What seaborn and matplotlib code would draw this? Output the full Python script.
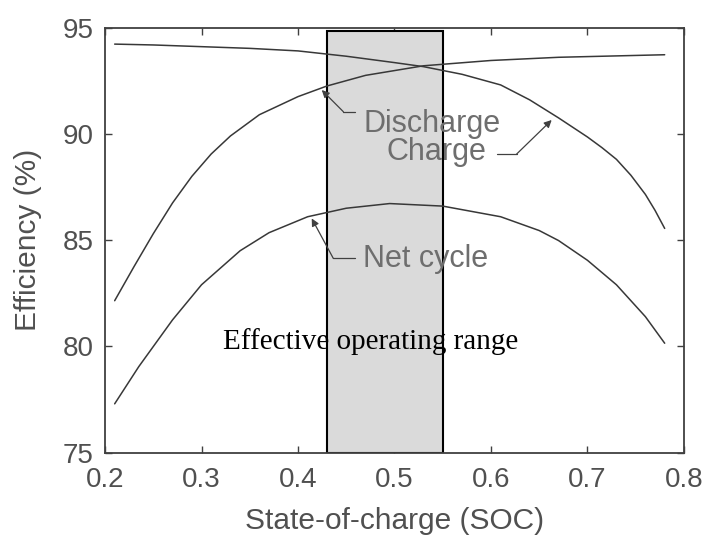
import pandas as pd
import matplotlib
matplotlib.use('Agg')
import matplotlib.pyplot as plt
from matplotlib.patches import Rectangle
import seaborn as sns

sns.set_style('ticks')
plt.rcParams['font.family'] = ['Liberation Sans', 'DejaVu Sans']

# efficiency curves (SOC, %)
charge_soc = [0.21, 0.25, 0.30, 0.35, 0.40, 0.45, 0.50, 0.53, 0.57, 0.61, 0.64, 0.67, 0.70,
              0.715, 0.73, 0.745, 0.76, 0.77, 0.78]
charge_eff = [94.22, 94.18, 94.1, 94.02, 93.9, 93.65, 93.35, 93.16, 92.8, 92.3, 91.6, 90.75, 89.85,
              89.35, 88.8, 88.05, 87.15, 86.4, 85.55]

discharge_soc = [0.21, 0.23, 0.25, 0.27, 0.29, 0.31, 0.33, 0.36, 0.40, 0.43, 0.47, 0.53, 0.60, 0.67, 0.78]
discharge_eff = [82.15, 83.75, 85.3, 86.75, 88.0, 89.05, 89.9, 90.9, 91.75, 92.25, 92.75, 93.2, 93.45, 93.6, 93.72]

net_soc = [0.21, 0.235, 0.27, 0.30, 0.34, 0.37, 0.41, 0.45, 0.495, 0.55, 0.61, 0.65, 0.67, 0.70, 0.73, 0.76, 0.78]
net_eff = [77.3, 79.05, 81.25, 82.9, 84.5, 85.35, 86.1, 86.5, 86.72, 86.6, 86.1, 85.45, 84.98, 84.05, 82.9, 81.4, 80.15]

# effective operating range (SOC)
range_lo, range_hi = 0.43, 0.55

x_ticks = [0.2, 0.3, 0.4, 0.5, 0.6, 0.7, 0.8]
y_ticks = [75, 80, 85, 90, 95]

df = pd.concat([
    pd.DataFrame({'SOC': charge_soc, 'Efficiency': charge_eff, 'curve': 'Charge'}),
    pd.DataFrame({'SOC': discharge_soc, 'Efficiency': discharge_eff, 'curve': 'Discharge'}),
    pd.DataFrame({'SOC': net_soc, 'Efficiency': net_eff, 'curve': 'Net cycle'}),
], ignore_index=True)

fig = plt.figure(figsize=(7.11, 5.44), dpi=100)
ax = fig.add_axes([0.1477, 0.1678, 0.8143, 0.7816])

# shaded box behind the curves
ax.add_patch(Rectangle((range_lo, 75), range_hi - range_lo, 19.85,
                       facecolor='#dadada', edgecolor='black', lw=1.5, zorder=1))

sns.lineplot(data=df, x='SOC', y='Efficiency', hue='curve', units='curve', estimator=None,
             palette=['#383838'] * 3, lw=1.1, legend=False, sort=False, ax=ax, zorder=2)

ax.set_xlim(0.2, 0.8)
ax.set_ylim(75, 95)
ax.set_xticks(x_ticks)
ax.set_yticks(y_ticks)
ax.set_xticklabels([f'{v:.1f}' for v in x_ticks])
ax.tick_params(direction='in', length=5, width=1, top=True, right=True,
               labelsize=20, labelcolor='#505050', color='#404040')
ax.tick_params(axis='x', pad=10)
ax.tick_params(axis='y', pad=8)
for s in ax.spines.values():
    s.set_color('#404040')
    s.set_linewidth(1.3)

ax.set_xlabel('State-of-charge (SOC)', fontsize=21.5, color='#505050')
ax.set_ylabel('Efficiency (%)', fontsize=21.5, color='#505050')
ax.xaxis.set_label_coords(0.5, -0.128)
ax.yaxis.set_label_coords(-0.109, 0.5)

# curve labels with leader lines
label_grey = '#6e6e6e'
leaders = [
    ((0.4246, 92.06), (0.447, 91.04), (0.459, 91.04)),
    ((0.6629, 90.65), (0.6266, 89.05), (0.6059, 89.05)),
    ((0.4142, 86.02), (0.4366, 84.14), (0.4591, 84.14)),
]
for tip, elbow, end in leaders:
    ax.plot([elbow[0], end[0]], [elbow[1], end[1]], color='#404040', lw=0.9, zorder=3)
    ax.annotate('', xy=tip, xytext=elbow,
                arrowprops=dict(arrowstyle='-|>', color='#404040', lw=0.9,
                                shrinkA=0, shrinkB=0, mutation_scale=11), zorder=3)

ax.text(0.4677, 90.10, 'Discharge', fontsize=22, color=label_grey, ha='left', va='baseline', zorder=4)
ax.text(0.5955, 88.76, 'Charge', fontsize=22, color=label_grey, ha='right', va='baseline', zorder=4)
ax.text(0.4677, 83.72, 'Net cycle', fontsize=22, color=label_grey, ha='left', va='baseline', zorder=4)
ax.text(0.3223, 79.87, 'Effective operating range', fontsize=21, color='black',
        family=['Liberation Serif', 'DejaVu Serif'], ha='left', va='baseline', zorder=4)

fig.savefig('out.png', dpi=100)
